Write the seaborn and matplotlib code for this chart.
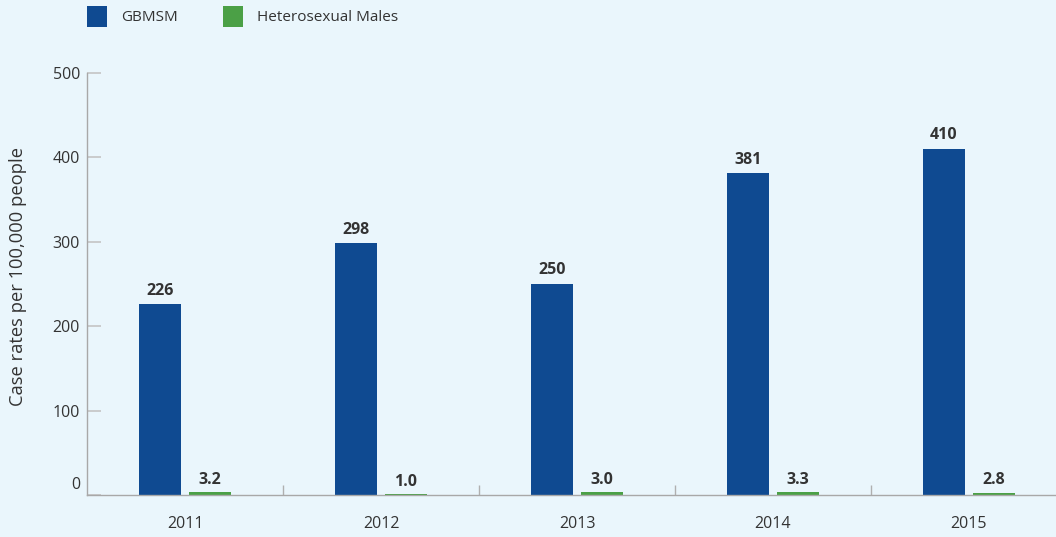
import matplotlib
matplotlib.use("Agg")
import matplotlib.pyplot as plt
import matplotlib.transforms as mtransforms
from matplotlib.patches import Patch
import seaborn as sns
import pandas as pd

years = ["2011", "2012", "2013", "2014", "2015"]
gbmsm = [226, 298, 250, 381, 410]
hetero = [3.2, 1.0, 3.0, 3.3, 2.8]
groups = ["GBMSM", "Heterosexual Males"]
colors = ["#0F4A91", "#4BA046"]

bg = "#EAF6FC"
text_col = "#333333"

df = pd.DataFrame({
    "year": years * 2,
    "rate": gbmsm + hetero,
    "group": [groups[0]] * len(years) + [groups[1]] * len(years),
})

sns.set_theme(style="white")
plt.rcParams["font.family"] = ["Open Sans", "DejaVu Sans"]

fig = plt.figure(figsize=(10.56, 5.37), dpi=100, facecolor=bg)
ax = fig.add_axes([87 / 1056, 42 / 537, 980 / 1056, 422 / 537])
ax.set_facecolor(bg)

sns.barplot(data=df, x="year", y="rate", hue="group", palette=colors,
            saturation=1, width=0.51, gap=0.157, linewidth=0, legend=False, ax=ax)

# value labels
ax.bar_label(ax.containers[0], labels=[f"{v:d}" for v in gbmsm], padding=4,
             fontsize=11.5, fontweight="bold", color=text_col)
ax.bar_label(ax.containers[1], labels=[f"{v:.1f}" for v in hetero], padding=3,
             fontsize=11.5, fontweight="bold", color=text_col)

ax.set_xlim(-0.5, 4.5)
ax.set_ylim(0, 500)
ax.set_yticks([0, 100, 200, 300, 400, 500])
ax.set_xlabel("")
ax.set_ylabel("Case rates per 100,000 people", fontsize=13.2, color=text_col)
ax.yaxis.set_label_coords(-60 / 980, (495 - 276) / 422)

for side in ["top", "right"]:
    ax.spines[side].set_visible(False)
for side in ["left", "bottom"]:
    ax.spines[side].set_color("#A8A8A8")
    ax.spines[side].set_linewidth(1)

ax.tick_params(axis="y", direction="in", length=10, width=1.2, color="#C4C4C4",
               labelsize=11.5, labelcolor=text_col, pad=5, left=True)
ax.tick_params(axis="x", which="major", length=0, labelsize=11.5,
               labelcolor=text_col, pad=15)
ax.set_xticks([0.5, 1.5, 2.5, 3.5], minor=True)
ax.tick_params(axis="x", which="minor", direction="in", length=7, width=1,
               color="#B0B0B0", bottom=True)

# lift the "0" label off the baseline
zero_lbl = ax.get_yticklabels()[0]
zero_lbl.set_transform(zero_lbl.get_transform() +
                       mtransforms.ScaledTranslation(0, 12 / 100, fig.dpi_scale_trans))

handles = [Patch(facecolor=c, edgecolor="none") for c in colors]
fig.legend(handles, groups, loc="upper left", bbox_to_anchor=(84 / 1056, 1 - 3 / 537),
           ncol=2, frameon=False, fontsize=11, handlelength=1.3, handleheight=1.7,
           handletextpad=0.9, columnspacing=3.0, borderaxespad=0, borderpad=0.2,
           labelcolor=text_col)

fig.savefig("out.png", dpi=100, facecolor=bg)
